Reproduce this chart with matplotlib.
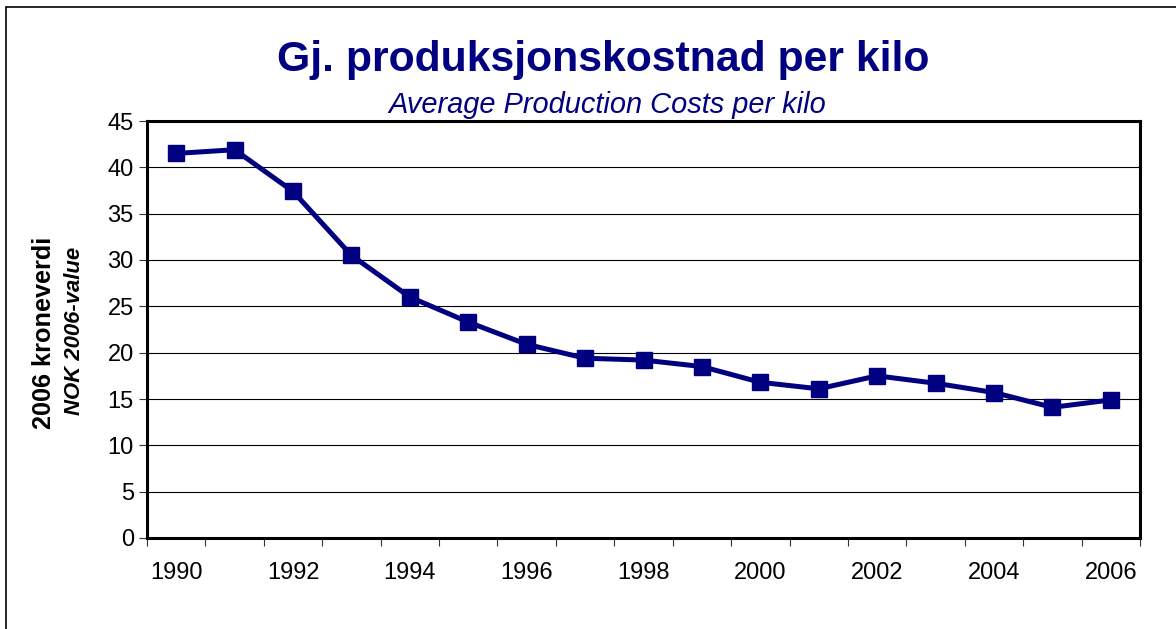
import matplotlib
matplotlib.use("Agg")
import matplotlib.pyplot as plt
from matplotlib.patches import Rectangle

years = list(range(1990, 2007))
costs = [41.5, 41.9, 37.4, 30.5, 26.0, 23.3, 20.9, 19.4, 19.2, 18.5,
         16.8, 16.1, 17.5, 16.7, 15.7, 14.1, 14.9]
yticks = [0, 5, 10, 15, 20, 25, 30, 35, 40, 45]
xlabels = [str(y) if (y - 1990) % 2 == 0 else "" for y in years]

title = "Gj. produksjonskostnad per kilo"
subtitle = "Average Production Costs per kilo"
ylabel1 = "2006 kroneverdi"
ylabel2 = "NOK 2006-value"

navy = "#000080"
plt.rcParams['font.family'] = ['Liberation Sans', 'DejaVu Sans']

W, H = 1176, 629
fig = plt.figure(figsize=(W / 100, H / 100), dpi=100)
ax = fig.add_axes([147 / W, 1 - 538 / H, (1140 - 147) / W, (538 - 121) / H])

# outer border
fig.patches.append(Rectangle((6 / W, -0.05), 1.1, 1 - 7 / H + 0.05, transform=fig.transFigure,
                             fill=False, edgecolor="black", linewidth=1.2))

x = list(range(len(years)))
ax.plot(x, costs, color=navy, linewidth=3.6, marker="s", markersize=11.5,
        markerfacecolor=navy, markeredgecolor=navy, zorder=3, clip_on=False)

ax.set_xlim(-0.5, len(years) - 0.5)
ax.set_ylim(0, 45)
ax.set_yticks(yticks)
ax.set_yticklabels([str(v) for v in yticks], fontsize=17)
ax.yaxis.grid(True, color="black", linewidth=0.8)
ax.set_axisbelow(True)

# category tick marks between categories, labels at centers
ax.set_xticks([i - 0.5 for i in range(len(years) + 1)])
ax.set_xticklabels([])
ax.set_xticks(x, minor=True)
ax.set_xticklabels(xlabels, minor=True, fontsize=17)
ax.tick_params(axis="x", which="major", direction="out", length=5.5, width=0.8, color="#333333")
ax.tick_params(axis="x", which="minor", length=0, pad=17)
ax.tick_params(axis="y", direction="out", length=5.5, width=0.8, color="#333333", pad=4)

for s in ax.spines.values():
    s.set_linewidth(2.2)
    s.set_color("black")

fig.text(0.5 * (277 + 930) / W, 1 - 60 / H, title, ha="center", va="center",
         fontsize=30.8, fontweight="bold", color=navy)
fig.text(0.5 * (388 + 826) / W, 1 - 105 / H, subtitle, ha="center", va="center",
         fontsize=20.9, fontstyle="italic", color=navy)
fig.text(44 / W, 1 - 333 / H, ylabel1, ha="center", va="center", rotation=90,
         fontsize=18.2, fontweight="bold")
fig.text(75 / W, 1 - 331 / H, ylabel2, ha="center", va="center", rotation=90,
         fontsize=15.9, fontweight="bold", fontstyle="italic")

fig.savefig("out.png", dpi=100)
